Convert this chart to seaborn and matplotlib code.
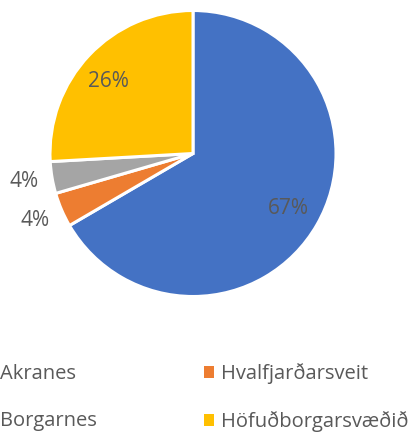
import numpy as np
import seaborn as sns
import matplotlib.pyplot as plt

labels = ["Akranes", "Hvalfjarðarsveit", "Borgarnes", "Höfuðborgarsvæðið"]
shares = [66.6, 3.9, 3.6, 25.9]
colors = ["#4472C4", "#ED7D31", "#A5A5A5", "#FFC000"]

sns.set_theme(style="white")
plt.rcParams["font.family"] = ["Open Sans", "DejaVu Sans"]
text_color = "#595959"
fs = 14.5

fig = plt.figure(figsize=(4.18, 4.32), dpi=100)
ax = fig.add_axes([50 / 418, (432 - 153.5 - 143) / 432, 286 / 418, 286 / 432])

wedges, texts, autotexts = ax.pie(
    shares, colors=sns.color_palette(colors), startangle=90, counterclock=False,
    autopct="%1.0f%%", pctdistance=0.77,
    wedgeprops=dict(edgecolor="white", linewidth=2.2),
    textprops=dict(color=text_color, fontsize=15),
)
ax.set_xlim(-1, 1)
ax.set_ylim(-1, 1)
ax.set_aspect("equal")

# small slices get labels outside, like Excel's best fit
for w, t in zip(wedges, autotexts):
    span = w.theta2 - w.theta1
    mid = (w.theta1 + w.theta2) / 2
    if span < 20:
        ang = np.deg2rad(mid + (3 if w.theta1 > 200 else 0))
        t.set_position((1.2 * np.cos(ang), 1.18 * np.sin(ang)))
    elif span < 180:
        ang = np.deg2rad(mid + 3)
        t.set_position((0.78 * np.cos(ang), 0.78 * np.sin(ang)))

# legend fills columns first, reorder so rows read like the reference
order = [0, 2, 1, 3]
leg = fig.legend(
    [wedges[i] for i in order], [labels[i] for i in order], ncol=2, loc="upper left",
    bbox_to_anchor=(-17 / 418, 1 - 363 / 432),
    frameon=False, fontsize=fs, labelcolor=text_color,
    handlelength=0.5, handleheight=0.5, handletextpad=0.35,
    labelspacing=1.35, columnspacing=5.3, borderaxespad=0, borderpad=0,
)
for h in leg.legend_handles:
    h.set_edgecolor("none")

fig.savefig("out.png", dpi=100)
